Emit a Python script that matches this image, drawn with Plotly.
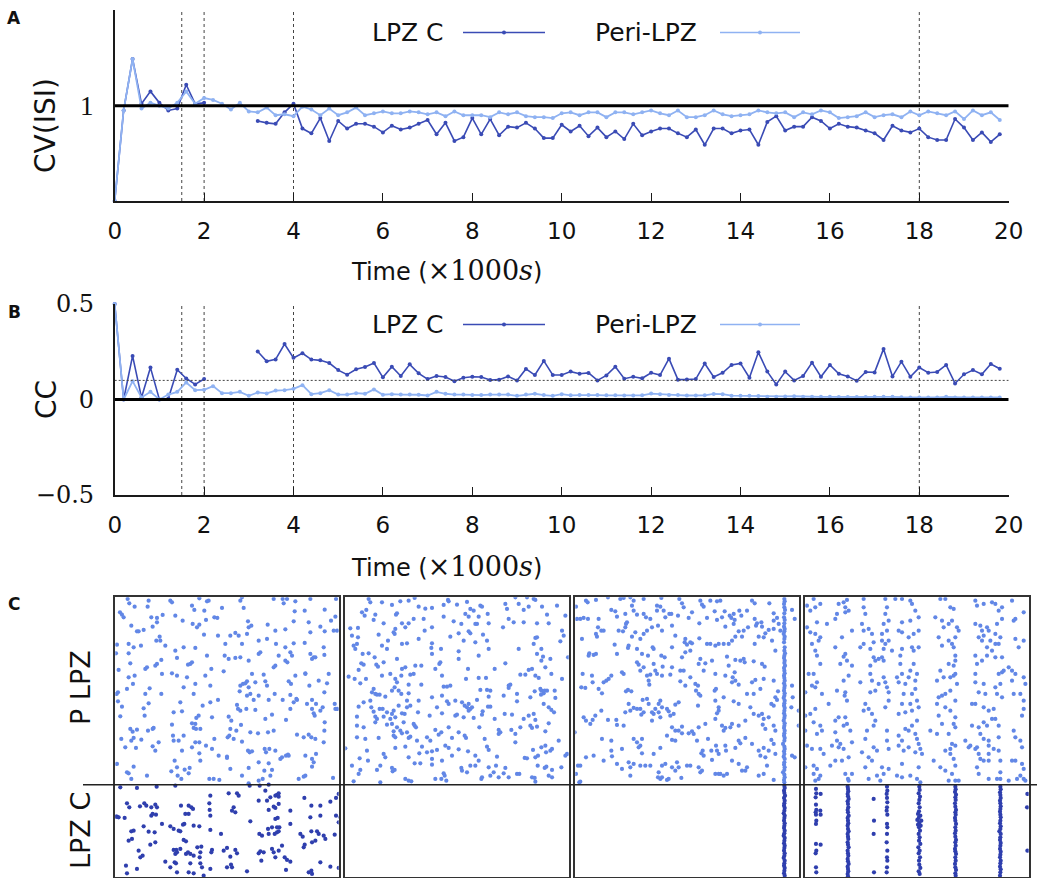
import plotly.graph_objects as go

W, H = 1044, 878

# ---------------- time series (panels A and B) ----------------
TIME = [0.0, 0.2, 0.4, 0.6, 0.8, 1.0, 1.2, 1.4, 1.6, 1.8,
        2.0, 2.2, 2.4, 2.6, 2.8, 3.0, 3.2, 3.4, 3.6, 3.8,
        4.0, 4.2, 4.4, 4.6, 4.8, 5.0, 5.2, 5.4, 5.6, 5.8,
        6.0, 6.2, 6.4, 6.6, 6.8, 7.0, 7.2, 7.4, 7.6, 7.8,
        8.0, 8.2, 8.4, 8.6, 8.8, 9.0, 9.2, 9.4, 9.6, 9.8,
        10.0, 10.2, 10.4, 10.6, 10.8, 11.0, 11.2, 11.4, 11.6, 11.8,
        12.0, 12.2, 12.4, 12.6, 12.8, 13.0, 13.2, 13.4, 13.6, 13.8,
        14.0, 14.2, 14.4, 14.6, 14.8, 15.0, 15.2, 15.4, 15.6, 15.8,
        16.0, 16.2, 16.4, 16.6, 16.8, 17.0, 17.2, 17.4, 17.6, 17.8,
        18.0, 18.2, 18.4, 18.6, 18.8, 19.0, 19.2, 19.4, 19.6, 19.8]

CV_PERI = [0.00, 0.95, 1.49, 0.97, 1.03, 1.00, 0.97, 1.03, 1.15, 1.02,
           1.08, 1.06, 1.02, 0.96, 1.03, 0.94, 0.93, 0.98, 0.90, 0.91,
           0.89, 0.99, 0.96, 0.90, 0.97, 0.90, 0.93, 0.98, 0.90, 0.92,
           0.94, 0.92, 0.92, 0.94, 0.93, 0.91, 0.93, 0.89, 0.94, 0.90,
           0.90, 0.90, 0.88, 0.93, 0.91, 0.93, 0.89, 0.88, 0.88, 0.87,
           0.92, 0.93, 0.90, 0.93, 0.93, 0.88, 0.93, 0.93, 0.91, 0.93,
           0.95, 0.92, 0.90, 0.95, 0.88, 0.88, 0.90, 0.95, 0.91, 0.89,
           0.90, 0.91, 0.95, 0.93, 0.92, 0.93, 0.88, 0.93, 0.91, 0.95,
           0.93, 0.87, 0.88, 0.89, 0.93, 0.88, 0.90, 0.91, 0.88, 0.94,
           0.90, 0.94, 0.92, 0.90, 0.94, 0.86, 0.95, 0.90, 0.93, 0.85]

CV_LPZC = [0.00, 0.95, 1.49, 1.02, 1.15, 1.03, 0.95, 0.97, 1.22, 1.02,
           1.03, None, None, None, None, None, 0.84, 0.82, 0.81, 0.93,
           1.02, 0.76, 0.71, 0.87, 0.63, 0.84, 0.76, 0.81, 0.81, 0.78,
           0.72, 0.79, 0.75, 0.77, 0.81, 0.85, 0.70, 0.82, 0.63, 0.67,
           0.87, 0.70, 0.86, 0.69, 0.78, 0.77, 0.82, 0.76, 0.66, 0.66,
           0.80, 0.73, 0.79, 0.68, 0.77, 0.67, 0.73, 0.65, 0.81, 0.69,
           0.73, 0.76, 0.76, 0.71, 0.67, 0.75, 0.59, 0.76, 0.76, 0.71,
           0.74, 0.75, 0.59, 0.83, 0.89, 0.74, 0.78, 0.78, 0.88, 0.84,
           0.76, 0.81, 0.78, 0.77, 0.74, 0.71, 0.64, 0.79, 0.74, 0.72,
           0.76, 0.67, 0.64, 0.64, 0.86, 0.77, 0.64, 0.72, 0.62, 0.70]

CC_PERI = [0.50, 0.00, 0.096, 0.010, 0.040, 0.000, 0.026, 0.040, 0.089, 0.049,
           0.051, 0.070, 0.033, 0.033, 0.040, 0.019, 0.037, 0.032, 0.047, 0.049,
           0.056, 0.075, 0.028, 0.033, 0.049, 0.026, 0.026, 0.033, 0.030, 0.053,
           0.025, 0.028, 0.026, 0.026, 0.025, 0.021, 0.040, 0.030, 0.026, 0.026,
           0.023, 0.023, 0.026, 0.026, 0.026, 0.019, 0.026, 0.030, 0.023, 0.019,
           0.028, 0.022, 0.023, 0.024, 0.023, 0.022, 0.022, 0.021, 0.021, 0.022,
           0.031, 0.027, 0.024, 0.023, 0.021, 0.021, 0.022, 0.029, 0.028, 0.020,
           0.019, 0.020, 0.018, 0.015, 0.015, 0.016, 0.017, 0.015, 0.015, 0.014,
           0.014, 0.013, 0.013, 0.013, 0.013, 0.014, 0.015, 0.014, 0.012, 0.011,
           0.011, 0.011, 0.011, 0.014, 0.011, 0.011, 0.011, 0.010, 0.011, 0.011]

CC_LPZC = [0.50, 0.00, 0.228, 0.010, 0.167, 0.000, 0.005, 0.156, 0.110, 0.079,
           0.107, None, None, None, None, None, 0.251, 0.200, 0.210, 0.290,
           0.218, 0.242, 0.209, 0.205, 0.191, 0.154, 0.130, 0.158, 0.170, 0.191,
           0.116, 0.172, 0.123, 0.184, 0.137, 0.107, 0.123, 0.118, 0.096, 0.114,
           0.119, 0.118, 0.102, 0.104, 0.121, 0.100, 0.160, 0.128, 0.202, 0.128,
           0.128, 0.146, 0.135, 0.139, 0.100, 0.126, 0.172, 0.109, 0.119, 0.111,
           0.140, 0.128, 0.214, 0.104, 0.105, 0.107, 0.188, 0.118, 0.140, 0.181,
           0.189, 0.114, 0.247, 0.146, 0.079, 0.146, 0.100, 0.123, 0.193, 0.119,
           0.181, 0.135, 0.121, 0.098, 0.144, 0.142, 0.265, 0.121, 0.198, 0.119,
           0.167, 0.140, 0.144, 0.181, 0.084, 0.132, 0.154, 0.132, 0.186, 0.161]

EVENT_TIMES = [1.5, 2.0, 4.0, 18.0]
X_TICKS = [0, 2, 4, 6, 8, 10, 12, 14, 16, 18, 20]
CV_REF = 1.0
CC_REF = 0.0
CC_THRESH = 0.1
SERIES_NAMES = ["LPZ C", "Peri-LPZ"]

# ---------------- spike rasters (panel C) ----------------
# (spike time in ms within the window, neuron index counted from the top row)
WINDOW_MS = [10, 680]
NEURON_RANGE = [850, 10]
LPZC_FIRST = 572   # neurons with index >= this belong to LPZ C

R1_PERI = [(47,15),(52,28),(68,38),(107,38),(110,20),(175,20),(180,25),(240,35),(247,48),(262,13),(285,22),(290,20),
           (330,42),(385,20),(390,10),(395,42),(485,15),(512,15),(525,15),(515,28),(548,52),(550,22),(578,50),(595,15),
           (638,47),(672,15),(24,55),(30,62),(35,70),(118,70),(122,98),(135,85),(135,72),(152,63),(190,65),(212,80),
           (242,90),(255,100),(262,92),(277,50),(282,78),(307,70),(316,72),(408,82),(410,100),(418,95),(467,92),(490,110),
           (520,106),(545,82),(590,85),(595,115),(625,98),(638,112),(657,80),(670,68),(665,110),(675,110),(75,112),(80,112),
           (95,108),(58,95),(15,152),(50,150),(65,160),(87,155),(133,140),(143,128),(145,140),(160,155),(190,170),(215,160),
           (250,162),(276,122),(318,125),(340,150),(355,125),(370,117),(380,125),(390,150),(405,120),(440,180),(445,175),
           (465,135),(492,150),(500,185),(520,160),(535,175),(540,185),(545,148),(578,147),(595,180),(605,190),(635,160),
           (637,183),(12,178),(50,178),(55,208),(100,225),(105,220),(130,215),(135,210),(148,198),(195,192),(228,212),
           (240,205),(235,210),(285,185),(338,185),(350,195),(370,192),(385,190),(410,200),(440,140),(526,205),(520,200),
           (490,215),(485,220),(550,245),(580,238),(600,195),(610,190),(20,228),(50,250),(45,285),(63,270),(68,245),
           (14,300),(18,295),(100,300),(113,283),(150,240),(148,300),(180,238),(195,245),(215,280),(225,250),(245,300),
           (250,270),(280,245),(298,225),(295,275),(335,232),(385,275),(393,270),(400,268),(405,262),(410,280),(415,300),
           (425,318),(420,240),(430,265),(455,242),(460,262),(465,275),(530,262),(537,270),(553,315),(580,240),(592,275),
           (620,260),(637,295),(650,240),(645,268),(612,330),(600,318),(535,303),(512,318),(488,300),(470,318),(440,305),
           (405,305),(383,292),(18,322),(30,338),(95,343),(98,365),(110,328),(185,355),(205,325),(210,352),(240,388),
           (253,372),(260,365),(272,335),(295,325),(300,370),(318,318),(350,368),(358,380),(375,333),(378,345),(385,350),
           (403,345),(430,348),(460,375),(480,362),(522,378),(535,345),(545,325),(555,318),(585,330),(600,345),(605,358),
           (608,365),(625,350),(632,340),(638,385),(670,345),(668,330),(675,345),(25,367),(55,405),(62,413),(75,407),
           (108,410),(122,405),(125,402),(180,392),(250,390),(245,402),(252,405),(265,405),(28,435),(40,460),(58,440),
           (65,432),(72,462),(88,437),(122,457),(130,470),(140,445),(183,425),(185,440),(200,440),(215,425),(210,470),
           (250,445),(262,445),(240,460),(300,465),(307,435),(347,430),(352,425),(355,405),(365,435),(373,410),(387,393),
           (390,443),(408,470),(413,475),(420,472),(415,415),(438,418),(458,465),(462,475),(468,415),(472,465),(485,410),
           (490,470),(505,495),(510,490),(522,485),(528,482),(555,422),(575,430),(590,422),(598,430),(610,435),(635,445),
           (637,410),(612,480),(580,485),(600,495),(15,510),(65,518),(45,535),(50,538),(105,545),(188,500),(195,520),
           (218,527),(233,522),(262,478),(265,500),(282,455),(320,485),(345,488),(345,492),(355,525),(390,545),(440,505),
           (457,530),(480,528),(470,508),(530,485),(580,545),(575,548),(560,555),(600,518),(605,505),(663,552),(58,555),
           (178,532),(197,545),(208,555),(230,538),(292,555),(305,555),(322,558),(410,568),(452,555),(410,522),(440,560),
           (475,545)]

R1_LPZC = [(25,580),(75,582),(134,578),(190,575),(295,605),(350,598),(375,598),(380,605),(413,575),(443,575),(470,572),
           (460,590),(490,605),(495,603),(500,608),(475,610),(500,598),(577,612),(672,612),(680,600),(45,628),(52,640),
           (84,637),(97,628),(103,635),(118,640),(130,632),(135,640),(207,635),(230,635),(238,640),(243,645),(292,628),
           (293,648),(365,640),(360,650),(370,655),(440,620),(465,620),(470,648),(485,638),(490,642),(500,630),(535,650),
           (598,635),(625,635),(655,623),(15,668),(20,670),(38,672),(118,665),(122,660),(132,662),(230,660),(220,660),
           (295,665),(415,682),(490,675),(497,672),(502,700),(495,700),(480,700),(468,705),(535,690),(595,670),(625,665),
           (672,665),(680,685),(58,712),(65,710),(95,697),(110,713),(128,715),(150,690),(175,697),(185,705),(200,710),
           (205,712),(213,692),(217,690),(245,695),(262,697),(295,708),(327,720),(442,720),(450,725),(470,720),(488,720),
           (495,715),(500,712),(572,728),(565,720),(598,712),(615,712),(620,720),(635,725),(668,722),(50,740),(60,735),
           (115,752),(130,745),(185,768),(193,768),(205,765),(215,738),(222,742),(256,760),(268,758),(265,775),(300,768),
           (335,770),(345,762),(370,768),(375,778),(445,772),(455,775),(480,765),(485,775),(500,770),(510,755),(578,752),
           (575,760),(600,745),(610,740),(640,735),(80,770),(85,790),(92,785),(190,780),(195,775),(222,780),(228,775),
           (235,780),(245,785),(263,790),(298,775),(355,788),(440,778),(490,790),(518,790),(525,798),(42,815),(75,825),
           (160,803),(175,820),(188,805),(192,808),(235,808),(265,808),(270,820),(295,825),(345,820),(360,820),(357,812),
           (405,832),(448,800),(522,828),(535,803),(590,835),(598,830),(625,805),(655,818),(45,838),(195,835),(230,835),
           (245,838),(275,845),(600,840),(680,822),(685,670),(12,668)]

R2_PERI = [(80,15),(85,25),(120,25),(150,33),(162,62),(175,22),(200,20),(218,12),(230,38),(250,44),(270,42),(305,33),
           (318,18),(320,22),(345,32),(375,24),(385,45),(395,50),(370,60),(380,68),(410,68),(405,90),(415,35),(420,38),
           (437,60),(490,30),(495,45),(500,75),(520,10),(530,30),(545,48),(555,10),(560,38),(575,15),(580,18),(600,38),
           (615,62),(645,35),(670,65),(60,55),(68,65),(73,48),(95,78),(100,62),(125,88),(165,58),(180,88),(190,100),
           (200,88),(215,75),(245,75),(248,110),(270,100),(305,68),(335,82),(358,90),(350,118),(380,112),(400,90),
           (440,88),(483,100),(515,85),(545,85),(585,88),(620,88),(660,110),(665,125),(25,103),(30,125),(48,102),
           (48,130),(45,150),(35,155),(40,165),(62,180),(80,178),(110,122),(120,155),(135,165),(138,140),(155,115),
           (160,105),(158,120),(165,195),(180,150),(195,148),(230,135),(270,148),(268,162),(270,180),(297,165),(325,128),
           (350,172),(365,140),(385,118),(400,145),(410,185),(423,122),(435,140),(440,165),(530,165),(580,132),(585,130),
           (575,150),(585,180),(598,165),(598,200),(603,188),(610,220),(625,195),(655,142),(678,190),(58,208),(65,212),
           (98,190),(103,212),(125,205),(20,248),(38,255),(50,228),(55,268),(72,255),(108,218),(120,245),(145,240),
           (160,255),(165,265),(178,245),(180,225),(190,220),(205,242),(215,240),(220,215),(238,215),(238,272),(280,225),
           (292,210),(295,205),(300,245),(305,278),(315,278),(325,275),(350,195),(378,225),(372,255),(410,252),(415,288),
           (435,288),(445,290),(440,308),(432,252),(458,225),(490,208),(500,275),(505,272),(485,305),(525,322),(535,242),
           (550,242),(560,228),(570,225),(580,245),(590,252),(595,285),(598,290),(605,298),(608,290),(615,290),(628,240),
           (638,290),(640,312),(660,255),(95,285),(90,295),(100,300),(105,302),(113,302),(130,308),(150,290),(158,280),
           (170,290),(178,300),(200,298),(200,272),(230,320),(270,310),(300,305),(315,322),(320,330),(340,320),(360,325),
           (368,335),(375,340),(380,330),(385,345),(390,340),(380,350),(405,318),(445,338),(422,352),(458,375),(500,282),
           (525,300),(565,310),(578,292),(597,302),(50,338),(65,325),(85,320),(88,340),(95,353),(100,368),(105,375),
           (113,345),(122,345),(125,368),(135,355),(145,375),(150,360),(155,350),(160,370),(170,335),(180,358),(188,360),
           (195,320),(195,340),(205,335),(228,355),(263,365),(285,340),(300,358),(340,365),(345,362),(365,370),(395,372),
           (420,362),(438,338),(488,360),(510,362),(560,365),(575,360),(580,378),(605,330),(620,340),(628,348),(636,355),
           (45,368),(45,395),(65,400),(100,385),(135,392),(150,390),(155,412),(160,430),(165,400),(175,410),(185,385),
           (180,418),(195,415),(200,432),(215,390),(218,395),(222,400),(225,440),(280,408),(290,422),(298,415),(255,430),
           (265,440),(320,400),(330,432),(350,415),(368,425),(372,432),(412,400),(428,435),(470,408),(470,420),(475,415),
           (508,408),(520,420),(535,400),(545,375),(565,395),(570,402),(585,398),(610,412),(620,388),(650,440),(45,430),
           (70,435),(110,432),(155,425),(160,462),(190,458),(205,428),(232,478),(240,458),(255,475),(270,472),(285,468),
           (310,455),(320,462),(350,466),(378,472),(400,485),(435,458),(440,468),(465,488),(520,445),(573,468),(598,460),
           (610,455),(612,475),(625,470),(630,465),(588,485),(580,490),(548,492),(555,493),(670,485),(675,480),(75,470),
           (78,500),(53,493),(30,515),(55,528),(50,540),(105,528),(115,515),(125,480),(130,490),(150,522),(152,532),
           (158,528),(200,490),(218,508),(235,508),(270,495),(270,512),(300,500),(305,538),(308,545),(330,485),(358,522),
           (360,530),(375,535),(385,515),(410,500),(400,515),(420,550),(418,555),(440,520),(445,545),(455,535),(462,515),
           (470,550),(485,538),(490,522),(500,550),(525,540),(532,540),(587,515),(608,522),(613,518),(630,528),(658,520),
           (570,550),(578,552),(580,563),(620,545),(630,550),(190,555),(200,560),(208,562),(280,555),(298,555),(313,560),
           (35,562),(115,565),(10,463)]

R2_LPZC = []

R3_PERI = [(12,38),(15,75),(42,20),(47,25),(72,18),(108,10),(145,15),(155,12),(175,10),(180,35),(185,20),(215,15),
           (268,12),(255,35),(265,38),(275,50),(292,60),(322,15),(330,28),(335,40),(385,20),(390,32),(395,38),(415,20),
           (435,22),(445,20),(458,52),(473,65),(478,72),(485,60),(488,78),(502,50),(508,65),(525,50),(540,20),(548,28),
           (592,28),(25,75),(35,72),(48,75),(80,75),(118,48),(130,52),(135,68),(160,60),(165,85),(185,50),(195,62),
           (215,60),(222,70),(235,75),(255,50),(280,70),(298,60),(318,65),(350,72),(360,55),(382,88),(405,72),(428,52),
           (435,78),(450,70),(460,98),(485,90),(548,75),(552,95),(555,88),(568,85),(570,98),(590,108),(605,58),(605,80),
           (615,72),(620,90),(660,48),(668,75),(78,100),(72,120),(88,110),(95,110),(75,128),(140,110),(153,112),(162,90),
           (160,100),(180,128),(190,115),(205,135),(215,120),(225,110),(240,100),(258,95),(270,110),(300,95),(310,125),
           (340,135),(338,145),(345,152),(355,145),(360,148),(382,133),(405,150),(415,150),(430,155),(440,150),(455,150),
           (470,150),(480,140),(490,128),(500,112),(510,128),(515,110),(528,100),(548,150),(560,128),(575,130),(580,118),
           (600,140),(605,105),(625,110),(610,170),(30,135),(52,178),(50,185),(65,183),(72,180),(128,152),(135,180),
           (170,155),(168,162),(195,165),(210,180),(228,185),(242,160),(245,165),(268,185),(278,190),(300,160),(330,190),
           (340,175),(355,170),(385,195),(380,210),(400,208),(420,200),(465,188),(490,198),(505,200),(515,195),(518,205),
           (545,202),(570,210),(578,218),(32,240),(40,282),(28,280),(60,245),(62,265),(80,285),(90,298),(95,265),
           (103,260),(110,255),(118,245),(150,235),(155,240),(168,288),(178,292),(195,205),(200,212),(205,230),(215,220),
           (225,245),(230,260),(232,272),(235,242),(245,210),(250,230),(255,240),(270,245),(272,218),(295,242),(300,220),
           (325,230),(325,262),(335,230),(340,275),(355,250),(370,270),(378,275),(372,290),(380,300),(395,230),(430,240),
           (428,290),(432,285),(460,245),(470,215),(482,250),(488,235),(490,260),(480,265),(500,272),(540,265),(550,258),
           (565,285),(575,255),(605,260),(618,292),(660,275),(662,310),(162,292),(170,330),(212,318),(225,315),(230,330),
           (215,355),(240,355),(250,345),(260,330),(265,320),(270,340),(285,345),(290,352),(310,332),(320,325),(305,360),
           (378,335),(385,305),(430,320),(440,340),(455,310),(485,322),(500,330),(525,300),(535,340),(545,300),(560,365),
           (570,360),(575,375),(598,330),(605,335),(610,310),(615,318),(658,340),(680,350),(35,370),(42,380),(55,390),
           (62,378),(70,365),(88,350),(108,378),(133,378),(135,393),(155,395),(160,355),(175,350),(185,342),(195,345),
           (205,345),(208,362),(240,380),(245,360),(260,355),(265,370),(295,365),(300,400),(310,410),(330,398),(360,412),
           (365,420),(380,400),(400,390),(430,375),(435,358),(440,350),(450,395),(455,410),(460,402),(475,400),(480,390),
           (500,395),(520,380),(545,360),(572,392),(580,405),(590,370),(605,395),(610,410),(680,395),(8,415),(90,435),
           (118,440),(118,470),(120,487),(150,465),(185,435),(195,445),(205,455),(210,435),(200,460),(210,478),(245,480),
           (265,462),(285,425),(300,438),(310,440),(320,410),(330,418),(350,418),(375,440),(388,478),(392,470),(395,485),
           (408,435),(418,470),(432,455),(435,470),(440,480),(460,455),(462,470),(490,462),(500,440),(505,448),(520,432),
           (540,450),(560,470),(565,485),(575,462),(580,490),(590,470),(598,438),(605,450),(610,480),(660,485),
           (668,490),(42,490),(65,485),(95,500),(135,510),(150,525),(170,505),(175,520),(175,545),(185,510),(205,515),
           (220,515),(235,515),(270,515),(280,510),(260,535),(300,520),(310,530),(315,505),(320,520),(345,515),(355,515),
           (380,520),(390,530),(385,535),(420,498),(430,540),(440,540),(445,540),(455,545),(465,540),(480,500),(500,510),
           (510,530),(520,530),(525,520),(560,545),(575,540),(585,515),(18,515),(25,515),(12,540),(22,565),
           (25,563),(258,550),(265,555),(270,550),(285,558),(290,555),(328,552),(605,558),
           # population burst near the end of the window
           (637,15),(638,22),(636,30),(637,40),(639,48),(637,58),(636,70),(638,78),(637,88),(636,98),(638,105),
           (637,112),(635,120),(638,128),(637,135),(636,145),(638,160),(637,170),(639,178),(637,185),(636,192),
           (638,200),(637,207),(639,215),(636,222),(637,230),(638,238),(636,245),(637,252),(638,260),(636,268),
           (638,275),(637,282),(636,290),(638,298),(637,305),(635,312),(638,320),(637,328),(636,335),(638,342),
           (637,350),(636,358),(638,365),(637,372),(635,380),(638,388),(637,395),(636,402),(638,410),(637,418),
           (636,425),(638,432),(637,440),(633,450),(637,458),(638,465),(636,472),(637,480),(635,488),(638,495),
           (637,505),(636,512),(638,520),(637,528),(633,535),(637,542),(638,550),(636,558),(637,565)]

R3_LPZC = [(637,575),(638,582),(636,590),(637,597),(639,605),(636,612),(638,620),(637,628),(636,635),(638,642),
           (637,650),(635,658),(638,665),(637,672),(636,680),(638,688),(637,695),(636,702),(638,710),(637,718),
           (635,725),(638,732),(637,740),(636,748),(638,755),(637,762),(636,770),(638,778),(637,785),(635,792),
           (638,800),(637,808),(636,815),(638,822),(637,830),(636,838),(638,845)]

R4_PERI = [(15,35),(25,50),(35,15),(40,40),(45,85),(15,100),(25,115),(40,120),(55,130),(50,140),(30,150),(40,170),
           (45,185),(55,210),(20,240),(35,240),(45,265),(40,280),(30,275),(10,295),(60,300),(80,330),(40,345),(25,360),
           (10,365),(35,385),(55,395),(60,410),(45,420),(10,410),(15,455),(30,465),(55,465),(65,480),(35,515),(45,525),
           (10,520),(35,540),(55,545),(40,560),(50,555),(55,30),(75,90),(100,75),(105,60),(110,30),(125,25),(130,40),
           (135,18),(130,55),(140,50),(150,110),(120,130),(100,160),(130,180),(125,188),(115,210),(135,200),(150,215),
           (140,245),(125,260),(105,290),(130,295),(128,305),(135,320),(100,380),(110,370),(130,370),(135,390),(125,395),
           (100,415),(105,440),(110,460),(115,450),(90,455),(125,465),(120,500),(100,500),(140,490),(130,540),(150,540),
           (138,555),(140,560),(85,515),(145,410),(150,445),(185,15),(185,40),(190,60),(180,90),(185,110),(200,105),
           (185,150),(175,160),(210,120),(215,145),(205,165),(215,190),(220,200),(205,215),(230,195),(240,190),(245,165),
           (245,200),(250,15),(255,40),(250,60),(260,80),(245,90),(255,110),(240,120),(240,140),(250,150),(260,140),
           (270,170),(175,265),(205,240),(210,260),(220,290),(230,270),(205,295),(245,250),(250,265),(255,280),(260,295),
           (260,320),(250,340),(190,330),(185,350),(200,345),(210,360),(220,380),(215,395),(195,410),(190,435),(215,460),
           (225,470),(255,410),(255,440),(260,465),(180,475),(200,490),(210,500),(190,520),(240,520),(245,540),(260,525),
           (235,560),(225,545),(200,555),(280,15),(300,15),(325,20),(330,30),(340,50),(350,70),(325,80),(300,85),
           (290,110),(300,115),(320,130),(335,120),(350,110),(330,160),(335,170),(350,160),(300,165),(295,185),(295,210),
           (300,240),(285,250),(290,265),(310,270),(320,250),(325,230),(335,210),(340,260),(345,240),(340,285),(330,300),
           (305,300),(300,330),(325,330),(345,320),(350,340),(310,355),(290,360),(330,350),(345,380),(330,395),(320,410),
           (340,420),(345,435),(350,450),(355,465),(340,475),(320,460),(290,455),(300,440),(310,405),(290,425),(305,470),
           (300,510),(285,545),(300,550),(325,545),(345,555),(355,565),(350,520),(385,410),(395,500),(360,480),(400,70),
           (420,80),(425,100),(415,15),(430,15),(445,40),(455,45),(440,90),(450,80),(465,100),(470,110),(410,130),
           (420,155),(440,140),(450,150),(460,130),(455,160),(460,185),(460,200),(455,215),(440,210),(415,230),(425,250),
           (405,260),(445,250),(455,245),(460,240),(465,270),(445,290),(430,300),(420,305),(410,310),(405,330),(430,340),
           (445,350),(460,320),(460,370),(455,390),(460,400),(410,365),(420,390),(405,420),(440,420),(450,450),(445,465),
           (460,455),(430,470),(445,480),(455,495),(460,515),(415,520),(430,530),(450,540),(460,560),(440,560),(470,560),
           (500,460),(520,330),(525,460),(520,20),(525,35),(545,30),(570,25),(580,30),(590,50),(600,40),(520,90),
           (535,95),(540,110),(555,100),(530,130),(540,140),(545,125),(560,110),(565,140),(580,150),(580,120),(590,150),
           (595,130),(585,90),(600,75),(555,160),(570,170),(520,185),(525,210),(540,200),(555,185),(580,190),(600,190),
           (590,240),(600,235),(605,230),(520,240),(520,265),(530,295),(550,300),(545,270),(580,280),(585,300),(600,310),
           (595,270),(620,220),(630,260),(635,300),(510,330),(545,340),(560,350),(575,345),(580,375),(570,375),(545,385),
           (555,395),(530,400),(510,395),(535,420),(545,435),(560,440),(590,395),(590,430),(520,465),(530,480),(535,495),
           (545,500),(560,480),(575,465),(590,470),(595,500),(525,520),(530,540),(560,555),(585,555),(595,535),(560,500),
           (630,20),(640,75),(635,80),(665,55),(665,140),(640,135),(650,160),(630,230),(640,240),(665,250),(670,270),
           (655,300),(665,320),(665,345),(660,365),(635,410),(640,430),(655,440),(660,460),(630,500),(640,500),(660,510),
           (665,525),(655,545),(665,555),(670,560),(645,555),(620,560),(595,555),(560,455),(490,440),(505,455)]

R4_LPZC = [(42,585),(43,598),(41,610),(42,632),(43,648),(41,655),(42,662),(43,680),(42,690),(42,750),(43,770),
           (41,778),(42,820),(43,835),(56,600),(55,650),(56,662),(56,752),
           (137,578),(138,585),(139,592),(137,600),(138,607),(140,615),(137,622),(138,630),(139,640),(137,648),
           (138,655),(140,665),(137,672),(138,680),(139,688),(137,695),(138,705),(140,712),(137,720),(138,728),
           (139,735),(137,745),(138,752),(140,760),(137,770),(138,778),(139,785),(137,795),(138,802),(140,810),
           (137,818),(138,825),(139,832),(137,840),(138,847),
           (215,615),(216,680),(215,720),(216,835),
           (255,578),(256,590),(254,600),(255,612),(256,625),(255,640),(254,650),(256,662),(255,690),(256,700),
           (255,720),(254,745),(256,770),(255,790),(256,800),(255,820),(254,835),
           (352,578),(353,588),(350,598),(354,608),(352,618),(350,628),(353,640),(351,652),(348,660),(355,665),
           (350,672),(346,678),(358,680),(352,686),(348,692),(356,695),(351,700),(354,710),(350,720),(353,730),
           (351,740),(355,750),(349,760),(353,770),(350,778),(354,790),(351,800),(352,812),(355,822),(350,832),
           (353,840),
           (460,578),(461,586),(459,594),(462,602),(460,610),(461,618),(459,628),(460,638),(462,648),(460,655),
           (461,662),(459,672),(460,680),(462,690),(460,700),(461,710),(459,718),(460,728),(462,738),(460,745),
           (461,755),(459,765),(460,772),(462,780),(460,790),(461,800),(459,810),(460,820),(462,828),(460,838),
           (461,845),
           (595,578),(596,586),(594,595),(595,603),(596,612),(594,620),(595,628),(596,637),(595,645),(594,653),
           (595,662),(596,670),(595,680),(594,688),(596,697),(595,705),(592,712),(596,720),(595,730),(594,738),
           (596,747),(595,755),(594,765),(596,773),(595,782),(594,790),(596,800),(595,808),(594,818),(596,826),
           (595,835),(594,845),
           (676,600),(675,640),(676,770)]

RASTERS = [(R1_PERI, R1_LPZC), (R2_PERI, R2_LPZC), (R3_PERI, R3_LPZC), (R4_PERI, R4_LPZC)]

# ---------------- styling ----------------
C_DARK = "#3a4bb5"
C_LIGHT = "#8fb2f2"
DOT_LIGHT = "#6287e6"
DOT_DARK = "#2f3fae"
AX_COL = "#1a1a1a"
SANS = "DejaVu Sans"
SERIF = "DejaVu Serif"


def fx(px):
    return px / W


def fy(py):
    return 1 - py / H


fig = go.Figure()

# panels A and B: LPZ C drawn first, Peri-LPZ on top
for xa, ya, ser_c, ser_p in [("x", "y", CV_LPZC, CV_PERI), ("x2", "y2", CC_LPZC, CC_PERI)]:
    fig.add_trace(go.Scatter(x=TIME, y=ser_c, mode="lines+markers", xaxis=xa, yaxis=ya,
                             line=dict(color=C_DARK, width=1.6), marker=dict(color=C_DARK, size=4),
                             connectgaps=False, showlegend=False, cliponaxis=False))
    fig.add_trace(go.Scatter(x=TIME, y=ser_p, mode="lines+markers", xaxis=xa, yaxis=ya,
                             line=dict(color=C_LIGHT, width=1.8), marker=dict(color=C_LIGHT, size=4),
                             showlegend=False, cliponaxis=False))

# panel C rasters
for k, (peri, lpzc) in enumerate(RASTERS):
    xa, ya = f"x{k + 3}", f"y{k + 3}"
    if peri:
        fig.add_trace(go.Scatter(x=[p[0] for p in peri], y=[p[1] for p in peri], mode="markers",
                                 xaxis=xa, yaxis=ya, marker=dict(color=DOT_LIGHT, size=4.2),
                                 showlegend=False))
    if lpzc:
        fig.add_trace(go.Scatter(x=[p[0] for p in lpzc], y=[p[1] for p in lpzc], mode="markers",
                                 xaxis=xa, yaxis=ya, marker=dict(color=DOT_DARK, size=4.2),
                                 showlegend=False))

X_DOM = [fx(114.7), fx(1008.7)]
tick_font = dict(family=SANS, size=23, color="#111")
common_x = dict(domain=X_DOM, range=[0, 20], tickvals=X_TICKS, ticks="inside", ticklen=8,
                tickcolor=AX_COL, tickwidth=1.3, showline=True, linecolor=AX_COL, linewidth=1.5,
                showgrid=False, zeroline=False, tickfont=tick_font, ticklabelstandoff=9)
common_y = dict(ticks="inside", ticklen=8, tickcolor=AX_COL, showline=True, linecolor=AX_COL,
                linewidth=1.5, showgrid=False, zeroline=False, ticklabelstandoff=14)

layout = dict(
    autosize=True, margin=dict(l=0, r=0, t=0, b=0, autoexpand=False),
    paper_bgcolor="white", plot_bgcolor="white", showlegend=False,
    xaxis=dict(anchor="y", **common_x),
    yaxis=dict(anchor="x", domain=[fy(201), fy(10.4)], range=[0, 2], tickvals=[1], ticktext=["1"],
               tickfont=dict(family="Liberation Serif", size=27, color="#111"), **common_y),
    xaxis2=dict(anchor="y2", **common_x),
    yaxis2=dict(anchor="x2", domain=[fy(495), fy(304)], range=[-0.5, 0.5], tickvals=[-0.5, 0, 0.5],
                ticktext=["\u22120.5", "0", "0.5"],
                tickfont=dict(family=SERIF, size=24, color="#111"), **common_y),
)

PANEL_LEFT = [115.3, 345.3, 575.3, 805.3]
PANEL_W = 223.4
for k, left in enumerate(PANEL_LEFT):
    n = k + 3
    layout[f"xaxis{n}"] = dict(anchor=f"y{n}", domain=[fx(left), fx(left + PANEL_W)], range=WINDOW_MS,
                               showticklabels=False, ticks="", showgrid=False, zeroline=False,
                               showline=True, mirror=True, linecolor="#333", linewidth=1.5)
    layout[f"yaxis{n}"] = dict(anchor=f"x{n}", domain=[fy(877.3), fy(597.3)], range=NEURON_RANGE,
                               showticklabels=False, ticks="", showgrid=False, zeroline=False,
                               showline=True, mirror=True, linecolor="#333", linewidth=1.5)

fig.update_layout(**layout)

shapes = []
# reference lines
shapes.append(dict(type="line", xref="x", yref="y", x0=0, x1=20, y0=CV_REF, y1=CV_REF,
                   line=dict(color="black", width=3)))
shapes.append(dict(type="line", xref="x2", yref="y2", x0=0, x1=20, y0=CC_REF, y1=CC_REF,
                   line=dict(color="black", width=3)))
shapes.append(dict(type="line", xref="x2", yref="y2", x0=0, x1=20, y0=CC_THRESH, y1=CC_THRESH,
                   line=dict(color="#444", width=1, dash="2px,2px")))
for t in EVENT_TIMES:
    for xr, yr in [("x", "y domain"), ("x2", "y2 domain")]:
        shapes.append(dict(type="line", xref=xr, yref=yr, x0=t, x1=t, y0=0, y1=1,
                           line=dict(color="#444", width=1, dash="3px,3px"), layer="below"))
# population divider across the raster panels
shapes.append(dict(type="line", xref="paper", yref="y3", x0=fx(83), x1=fx(1037),
                   y0=LPZC_FIRST, y1=LPZC_FIRST, line=dict(color="#222", width=1.5)))

annotations = []


def text(x, y, s, size, angle=0, bold=False, family=SANS):
    annotations.append(dict(x=fx(x), y=fy(y), xref="paper", yref="paper", text=f"<b>{s}</b>" if bold else s,
                            showarrow=False, textangle=angle, xanchor="center", yanchor="middle",
                            font=dict(family=family, size=size, color="#111")))


# legends (text first, then line sample with a centre dot)
for ly in (32.5, 324.5):
    for name, tx, l0, l1, col in [(SERIES_NAMES[0], 408, 463, 545, C_DARK),
                                   (SERIES_NAMES[1], 646, 720, 800, C_LIGHT)]:
        text(tx, ly, name, 25)
        shapes.append(dict(type="line", xref="paper", yref="paper", x0=fx(l0), x1=fx(l1),
                           y0=fy(ly), y1=fy(ly), line=dict(color=col, width=1.6)))
        mx = (l0 + l1) / 2
        shapes.append(dict(type="circle", xref="paper", yref="paper", x0=fx(mx - 2), x1=fx(mx + 2),
                           y0=fy(ly + 2), y1=fy(ly - 2), fillcolor=col, line=dict(color=col, width=0)))

text(14, 18, "A", 17, bold=True)
text(14, 312, "B", 17, bold=True)
text(14, 604, "C", 17, bold=True)
text(46, 126, "CV(ISI)", 28, angle=-90)
text(46, 400, "CC", 28, angle=-90)
time_lbl = ("Time (<span style='font-family:DejaVu Serif;font-size:27px'>\u00d71000"
            "<i>s</i></span>)")
text(446, 270, time_lbl, 24)
text(446, 566, time_lbl, 24)
text(80, 688, "P LPZ", 27, angle=-90)
text(80, 831, "LPZ C", 27, angle=-90)

fig.update_layout(shapes=shapes, annotations=annotations)
# the graph div is pinned to the window's top-left corner at the full window size
fig.write_html("out.html",
               default_width=f"{W}px; position:absolute; left:0; top:0",
               default_height=f"{H}px",
               config={"responsive": False, "displayModeBar": False})
